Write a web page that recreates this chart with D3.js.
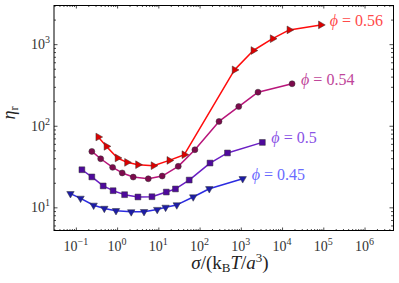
<!DOCTYPE html>
<html>
<head>
<meta charset="utf-8">
<script src="https://cdn.jsdelivr.net/npm/d3@7"></script>
<style>
  body { margin: 0; background: #fff; }
  svg text { font-family: "Liberation Serif", "DejaVu Serif", serif; }
</style>
</head>
<body>
<div id="chart"></div>
<script>
// volume fractions
var phis = ["0.45", "0.5", "0.54", "0.56"];

// stress sigma/(kBT/a^3) and relative viscosity, one pair per phi
var sigma45 = [0.074, 0.13, 0.27, 0.49, 0.94, 2.2, 4.5, 9.4, 15, 28, 70, 172, 1110];
var eta45   = [14.7, 12.9, 10.6, 9.7, 9.1, 8.8, 8.85, 9.4, 10.0, 10.7, 13.4, 16.9, 22.4];

var sigma50 = [0.14, 0.244, 0.46, 0.80, 1.52, 3.2, 7.0, 15.6, 26, 56, 179, 475, 3330];
var eta50   = [28.9, 23.6, 18.3, 16.0, 14.3, 13.4, 13.5, 15.4, 16.8, 21.6, 34.9, 46.4, 62.5];

var sigma54 = [0.244, 0.40, 0.78, 1.33, 2.46, 5.7, 12.4, 30.4, 77, 296, 890, 2610, 17500];
var eta54   = [48.5, 39.4, 30.9, 26.4, 23.5, 22.4, 24.2, 31.8, 50.8, 113, 172, 258, 327];

var sigma56 = [0.348, 0.55, 1.02, 1.73, 3.2, 7.6, 18.4, 42.6, 703, 2010, 5880, 15000, 86900];
var eta56   = [72.8, 55.9, 40.3, 35.6, 33.3, 32.4, 37.6, 44.2, 484, 836, 1167, 1496, 1722];

var xTicks = [1e-1, 1e0, 1e1, 1e2, 1e3, 1e4, 1e5, 1e6];
var xExp = ["\u22121", "0", "1", "2", "3", "4", "5", "6"];
var yTicks = [1e1, 1e2, 1e3];
var yExp = ["1", "2", "3"];

var margin = {top: 5, right: 6, bottom: 52, left: 54},
    width = 393 - margin.left,
    height = 231 - margin.top;

var x = d3.scaleLog()
    .domain([Math.pow(10, -1.53), Math.pow(10, 6.69)])
    .range([0, width]);

var y = d3.scaleLog()
    .domain([Math.pow(10, 0.71), Math.pow(10, 3.48)])
    .range([height, 0]);

var series = [
  {phi: phis[0], sigma: sigma45, eta: eta45, line: "#2b2be0", fill: "#1c1ca8", label: "#6a6aff", marker: "tri-down"},
  {phi: phis[1], sigma: sigma50, eta: eta50, line: "#6a1ec4", fill: "#4e0a9c", label: "#8a52e6", marker: "square"},
  {phi: phis[2], sigma: sigma54, eta: eta54, line: "#b8157a", fill: "#7c0a4c", label: "#c0469a", marker: "circle"},
  {phi: phis[3], sigma: sigma56, eta: eta56, line: "#ff0c0c", fill: "#dd0000", label: "#ff4a4a", marker: "tri-right"}
];

var svg = d3.select("#chart")
  .append("svg")
    .attr("width", 399)
    .attr("height", 283)
  .append("g")
    .attr("transform", "translate(" + margin.left + "," + margin.top + ")");

// minor tick values for log axes
function minors(scale) {
  var d = scale.domain(), out = [];
  var lo = Math.floor(Math.log10(d[0])), hi = Math.ceil(Math.log10(d[1]));
  for (var e = lo; e <= hi; e++) {
    for (var k = 2; k <= 9; k++) {
      var v = k * Math.pow(10, e);
      if (v > d[0] && v < d[1]) out.push(v);
    }
  }
  return out;
}

function tickAxis(axisFn, scale, values, size, transform) {
  svg.append("g")
      .attr("transform", transform)
      .call(axisFn(scale).tickValues(values).tickSize(size).tickFormat(""))
      .call(function(g) { g.select(".domain").remove(); })
      .selectAll("line")
      .attr("stroke", "#222")
      .attr("stroke-width", 0.8);
}

// inward ticks on all four sides
tickAxis(d3.axisBottom, x, xTicks, -3.5, "translate(0," + height + ")");
tickAxis(d3.axisBottom, x, minors(x), -2, "translate(0," + height + ")");
tickAxis(d3.axisTop, x, xTicks, -3.5, "translate(0,0)");
tickAxis(d3.axisTop, x, minors(x), -2, "translate(0,0)");
tickAxis(d3.axisLeft, y, yTicks, -3.5, "translate(0,0)");
tickAxis(d3.axisLeft, y, minors(y), -2, "translate(0,0)");
tickAxis(d3.axisRight, y, yTicks, -3.5, "translate(" + width + ",0)");
tickAxis(d3.axisRight, y, minors(y), -2, "translate(" + width + ",0)");

// frame
svg.append("line").attr("x1", 0).attr("x2", 0).attr("y1", 0).attr("y2", height)
    .attr("stroke", "#000").attr("stroke-width", 1);
svg.append("line").attr("x1", 0).attr("x2", width).attr("y1", 0.5).attr("y2", 0.5)
    .attr("stroke", "#000").attr("stroke-width", 1);
svg.append("line").attr("x1", 0).attr("x2", width).attr("y1", height - 0.5).attr("y2", height - 0.5)
    .attr("stroke", "#000").attr("stroke-width", 1);
svg.append("line").attr("x1", width + 0.5).attr("x2", width + 0.5).attr("y1", 0).attr("y2", height)
    .attr("stroke", "#000").attr("stroke-width", 1);

// tick labels 10^n
var xl = svg.append("g").selectAll("text")
    .data(xTicks)
    .enter()
  .append("text")
    .attr("x", function(d) { return x(d); })
    .attr("y", height + 20)
    .attr("text-anchor", "middle")
    .attr("fill", "#333")
    .style("font-size", "14px");
xl.append("tspan").text("10");
xl.append("tspan").attr("dy", -6).style("font-size", "10px")
    .text(function(d, i) { return xExp[i]; });

var yl = svg.append("g").selectAll("text")
    .data(yTicks)
    .enter()
  .append("text")
    .attr("x", -4)
    .attr("y", function(d) { return y(d) + 5; })
    .attr("text-anchor", "end")
    .attr("fill", "#333")
    .style("font-size", "14px");
yl.append("tspan").text("10");
yl.append("tspan").attr("dy", -6).style("font-size", "10px")
    .text(function(d, i) { return yExp[i]; });

// axis titles
var xt = svg.append("text")
    .attr("x", 176)
    .attr("y", height + 38)
    .attr("text-anchor", "middle")
    .attr("fill", "#222")
    .style("font-size", "19px");
xt.append("tspan").style("font-style", "italic").text("\u03c3");
xt.append("tspan").text("/(k");
xt.append("tspan").attr("dy", 3).style("font-size", "13px").text("B");
xt.append("tspan").attr("dy", -3).style("font-style", "italic").text("T");
xt.append("tspan").text("/");
xt.append("tspan").style("font-style", "italic").text("a");
xt.append("tspan").attr("dy", -7).style("font-size", "13px").text("3");
xt.append("tspan").attr("dy", 7).text(")");

var yt = svg.append("text")
    .attr("transform", "translate(-39," + 108 + ") rotate(-90)")
    .attr("text-anchor", "middle")
    .attr("fill", "#222")
    .style("font-size", "18px");
yt.append("tspan").style("font-style", "italic").text("\u03b7");
yt.append("tspan").attr("dy", 3).style("font-size", "12px").text("r");

// lines
var line = d3.line()
    .x(function(d) { return x(d[0]); })
    .y(function(d) { return y(d[1]); });

series.forEach(function(s) {
  s.points = s.sigma.map(function(v, i) { return [v, s.eta[i]]; });
});

svg.append("g")
    .selectAll("path")
    .data(series)
    .enter()
  .append("path")
    .attr("fill", "none")
    .attr("stroke", function(d) { return d.line; })
    .attr("stroke-width", 1.5)
    .attr("stroke-linejoin", "round")
    .attr("d", function(d) { return line(d.points); });

// markers
var symbols = {
  "square": d3.symbol().type(d3.symbolSquare).size(34),
  "circle": d3.symbol().type(d3.symbolCircle).size(28),
  "tri-down": d3.symbol().type(d3.symbolTriangle).size(24),
  "tri-right": d3.symbol().type(d3.symbolTriangle).size(26)
};
var rot = {"square": 0, "circle": 0, "tri-down": 180, "tri-right": 90};

series.forEach(function(s) {
  svg.append("g")
      .selectAll("path")
      .data(s.points)
      .enter()
    .append("path")
      .attr("d", symbols[s.marker])
      .attr("transform", function(d) {
        return "translate(" + x(d[0]) + "," + y(d[1]) + ") rotate(" + rot[s.marker] + ")";
      })
      .attr("fill", s.fill)
      .attr("stroke", "#333")
      .attr("stroke-width", 0.5);
});

// phi labels at the end of each curve
var lab = svg.append("g")
    .selectAll("text")
    .data(series)
    .enter()
  .append("text")
    .attr("x", function(d) { var p = d.points[d.points.length - 1]; return x(p[0]) + 9; })
    .attr("y", function(d) { var p = d.points[d.points.length - 1]; return y(p[1]) + 1; })
    .attr("fill", function(d) { return d.label; })
    .style("font-size", "16px");
lab.append("tspan").style("font-style", "italic").text("\u03d5");
lab.append("tspan").text(function(d) { return " = " + d.phi; });
</script>
</body>
</html>
